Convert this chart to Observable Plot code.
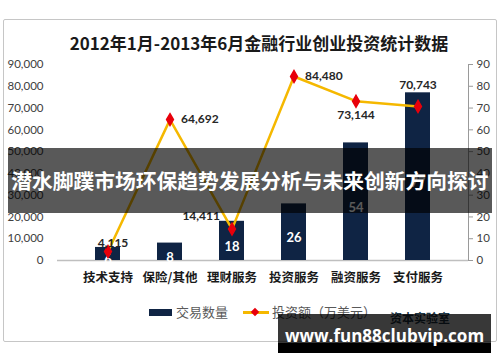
<!DOCTYPE html>
<html><head><meta charset="utf-8">
<script src="https://cdn.jsdelivr.net/npm/d3@7"></script>
<script src="https://cdn.jsdelivr.net/npm/@observablehq/plot@0.6"></script>
<style>
body{margin:0;background:#fff;}
#wrap{position:relative;width:500px;height:362px;overflow:hidden;font-family:"Noto Sans CJK SC",sans-serif;}
#frame{position:absolute;left:3px;top:19px;width:492px;height:321px;border:1px solid #c6c6c6;border-radius:2px;}
#title{position:absolute;left:0;width:518px;top:31px;text-align:center;font-weight:bold;font-size:17px;color:#1a1a1a;line-height:24px;}
#chart{position:absolute;left:0;top:0;}
#legend{position:absolute;top:303px;left:149px;display:flex;align-items:center;font-size:13px;color:#595959;line-height:18px;}
.sw{display:inline-block;width:23px;height:7px;background:#0f2444;margin-right:4px;}
.ln{position:relative;display:inline-block;width:26px;height:3px;background:#f5b800;margin-left:15px;margin-right:3px;}
.ln i{position:absolute;left:9px;top:-2px;width:6px;height:6px;background:#e8000b;transform:rotate(45deg);}
#logo{position:absolute;left:390px;top:309px;font-size:12px;font-weight:bold;color:#1f3a4a;}
#banner{position:absolute;left:8px;top:148px;width:484px;height:65px;background:rgba(0,0,0,0.65);color:#fff;font-weight:bold;line-height:65px;text-align:center;white-space:nowrap;overflow:hidden;}
#btxt{display:inline-block;font-size:21px;}
#wm{position:absolute;left:278px;top:314px;width:213px;height:29px;background:rgba(0,0,0,0.78);}
#wm2{position:absolute;left:278px;top:343px;width:213px;height:10px;background:#000;}
#wmt{position:absolute;left:278px;top:323px;width:213px;text-align:center;color:#fff;font-family:"Open Sans",sans-serif;font-weight:bold;font-size:17px;line-height:26px;}
</style></head>
<body>
<div id="wrap">
  <div id="frame"></div>
  <div id="chart"></div>
  <div id="title">2012年1月-2013年6月金融行业创业投资统计数据</div>
  <div id="legend"><span class="sw"></span><span>交易数量</span><span class="ln"><i></i></span><span>投资额（万美元）</span></div>
  <div id="logo">资本实验室</div>
  <div id="banner"><span id="btxt">潜水脚蹼市场环保趋势发展分析与未来创新方向探讨</span></div>
  <div id="wm"></div><div id="wm2"></div>
  <div id="wmt">www.fun88clubvip.com</div>
</div>
<script>
const categories = ["技术支持","保险/其他","理财服务","投资服务","融资服务","支付服务"];
const dealCounts = [6, 8, 18, 26, 54, 77];
const investAmounts = [4115, 64692, 14411, 84480, 73144, 70743];
const leftTicks = [0,10000,20000,30000,40000,50000,60000,70000,80000,90000];
const rightTicks = [0,10,20,30,40,50,60,70,80,90];

const data = categories.map((c,i)=>({cat:c, count:dealCounts[i], amount:investAmounts[i], i}));
const fmt = d3.format(",");
const numFont = "Lato, 'Noto Sans CJK SC', sans-serif";

const chart = Plot.plot({
  width:500, height:362,
  marginTop:64, marginBottom:102, marginLeft:57, marginRight:32,
  style:{background:"transparent", fontFamily:numFont},
  x:{domain:categories, padding:0.6},
  y:{domain:[0,90000]},
  marks:[
    Plot.axisY({anchor:"left", ticks:leftTicks, tickSize:0, tickPadding:14, tickFormat:fmt, fontSize:11.5, fill:"#404040", label:null}),
    Plot.axisY({anchor:"right", ticks:rightTicks.map(v=>v*1000), tickSize:4, tickPadding:4, tickFormat:(d)=>String(d/1000), fontSize:11.5, fill:"#404040", stroke:"#9a9a9a", label:null}),
    Plot.frame({anchor:"right", stroke:"#9a9a9a"}),
    Plot.axisX({tickSize:0, tickPadding:13, fontSize:12.5, fontWeight:"bold", fill:"#1a1a1a", fontFamily:"'Noto Sans CJK SC', sans-serif", label:null}),
    Plot.ruleY([0], {stroke:"#bfbfbf", strokeWidth:1.5}),
    Plot.barY(data, {x:"cat", y:d=>d.count*1000, fill:"#0f2444"}),
    Plot.text(data, {x:"cat", y:d=>d.count*500, text:d=>String(d.count), dy:6, fill:"#fff", fontWeight:"bold", fontSize:13}),
    Plot.line(data, {x:"cat", y:"amount", stroke:"#f5b800", strokeWidth:2.5}),
    Plot.dot(data, {x:"cat", y:"amount", symbol:"diamond", r:3.6, fill:"#e8000b", stroke:"#e8000b"}),
    Plot.text(data, {filter:d=>d.i===1||d.i===3, x:"cat", y:"amount", text:d=>fmt(d.amount), dx:11, textAnchor:"start", fontSize:12, fontWeight:"bold", fill:"#262626"}),
    Plot.text(data, {filter:d=>d.i===0, x:"cat", y:"amount", text:d=>fmt(d.amount), dx:5, dy:-8, fontSize:12, fontWeight:"bold", fill:"#262626"}),
    Plot.text(data, {filter:d=>d.i===2, x:"cat", y:"amount", text:d=>fmt(d.amount), dx:-12, dy:-13, textAnchor:"end", fontSize:12, fontWeight:"bold", fill:"#262626"}),
    Plot.text(data, {filter:d=>d.i===4, x:"cat", y:"amount", text:d=>fmt(d.amount), dy:14, fontSize:12, fontWeight:"bold", fill:"#262626"}),
    Plot.text(data, {filter:d=>d.i===5, x:"cat", y:"amount", text:d=>fmt(d.amount), dy:-21, fontSize:12, fontWeight:"bold", fill:"#262626"})
  ]
});
document.getElementById("chart").appendChild(chart);

// fit banner text to the band width
const bt = document.getElementById("btxt");
let fs = 21;
while (bt.getBoundingClientRect().width > 480 && fs > 12) { fs -= 0.25; bt.style.fontSize = fs + "px"; }
</script>
</body></html>
